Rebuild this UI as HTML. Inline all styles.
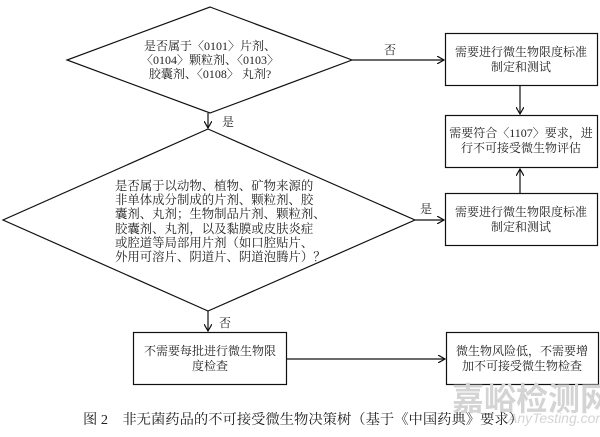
<!DOCTYPE html>
<html><head><meta charset="utf-8"><style>
html,body{margin:0;padding:0;background:#fff;}
svg text{font-family:"Liberation Serif","Noto Serif CJK SC","Noto Sans CJK SC",serif;fill:#222;}
</style></head><body>
<svg width="600" height="432" viewBox="0 0 600 432" xmlns="http://www.w3.org/2000/svg">
<defs><marker id="a" markerWidth="8" markerHeight="8" refX="7" refY="4" orient="auto" markerUnits="userSpaceOnUse"><path d="M0,0 L7,4 L0,8" fill="none" stroke="#111" stroke-width="1.2"/></marker></defs>
<g fill="none" stroke="#111" stroke-width="1.2">
<polygon points="210,7 352,60 210,113 67,60"/>
<polygon points="208,129 415,220 208,311 3,220"/>
<rect x="445.5" y="33.5" width="152" height="52"/>
<rect x="445.5" y="115.5" width="152" height="52"/>
<rect x="445.5" y="193.5" width="152" height="52"/>
<rect x="133.5" y="332.5" width="153" height="52"/>
<rect x="446.5" y="332.5" width="152" height="52"/>
<line x1="352" y1="60" x2="444" y2="60" marker-end="url(#a)"/>
<line x1="520" y1="86" x2="520" y2="114" marker-end="url(#a)"/>
<line x1="520" y1="193" x2="520" y2="169" marker-end="url(#a)"/>
<line x1="415" y1="220" x2="444" y2="220" marker-end="url(#a)"/>
<line x1="208" y1="113" x2="208" y2="128" marker-end="url(#a)"/>
<line x1="208" y1="311" x2="208" y2="331" marker-end="url(#a)"/>
<line x1="287" y1="359" x2="445" y2="359" marker-end="url(#a)"/>
</g>
<g font-size="12" text-anchor="middle">
<text x="210" y="50">是否属于〈0101〉片剂、</text>
<text x="210" y="64">〈0104〉颗粒剂、〈0103〉</text>
<text x="210" y="78">胶囊剂、〈0108〉 丸剂?</text>
<text x="521" y="56">需要进行微生物限度标准</text>
<text x="521" y="71">制定和测试</text>
<text x="521" y="137">需要符合〈1107〉要求，进</text>
<text x="521" y="152">行不可接受微生物评估</text>
<text x="521" y="216">需要进行微生物限度标准</text>
<text x="521" y="231">制定和测试</text>
<text x="210" y="355">不需要每批进行微生物限</text>
<text x="210" y="370">度检查</text>
<text x="522" y="355">微生物风险低，不需要增</text>
<text x="522" y="370">加不可接受微生物检查</text>
<text x="390" y="54">否</text>
<text x="228" y="126">是</text>
<text x="426" y="213">是</text>
<text x="225" y="327">否</text>
</g>
<g font-size="12.4" text-anchor="start">
<text x="115" y="190">是否属于以动物、植物、矿物来源的</text>
<text x="115" y="204">非单体成分制成的片剂、颗粒剂、胶</text>
<text x="115" y="218">囊剂、丸剂；生物制品片剂、颗粒剂、</text>
<text x="115" y="233">胶囊剂、丸剂，以及黏膜或皮肤炎症</text>
<text x="115" y="247">或腔道等局部用片剂（如口腔贴片、</text>
<text x="115" y="261">外用可溶片、阴道片、阴道泡腾片）？</text>
</g>
<text x="452" y="410" font-size="32" style="fill:#d4d4d4;font-family:'Noto Sans CJK SC',sans-serif;font-weight:bold">嘉峪检测网</text>
<text x="508" y="423" font-size="14" style="fill:#d4d4d4;font-style:italic;font-family:'Liberation Sans',sans-serif">AnyTesting.com</text>
<text x="83" y="424" font-size="14" textLength="440" lengthAdjust="spacingAndGlyphs">图 2　非无菌药品的不可接受微生物决策树（基于《中国药典》要求）</text>
</svg>
</body></html>
